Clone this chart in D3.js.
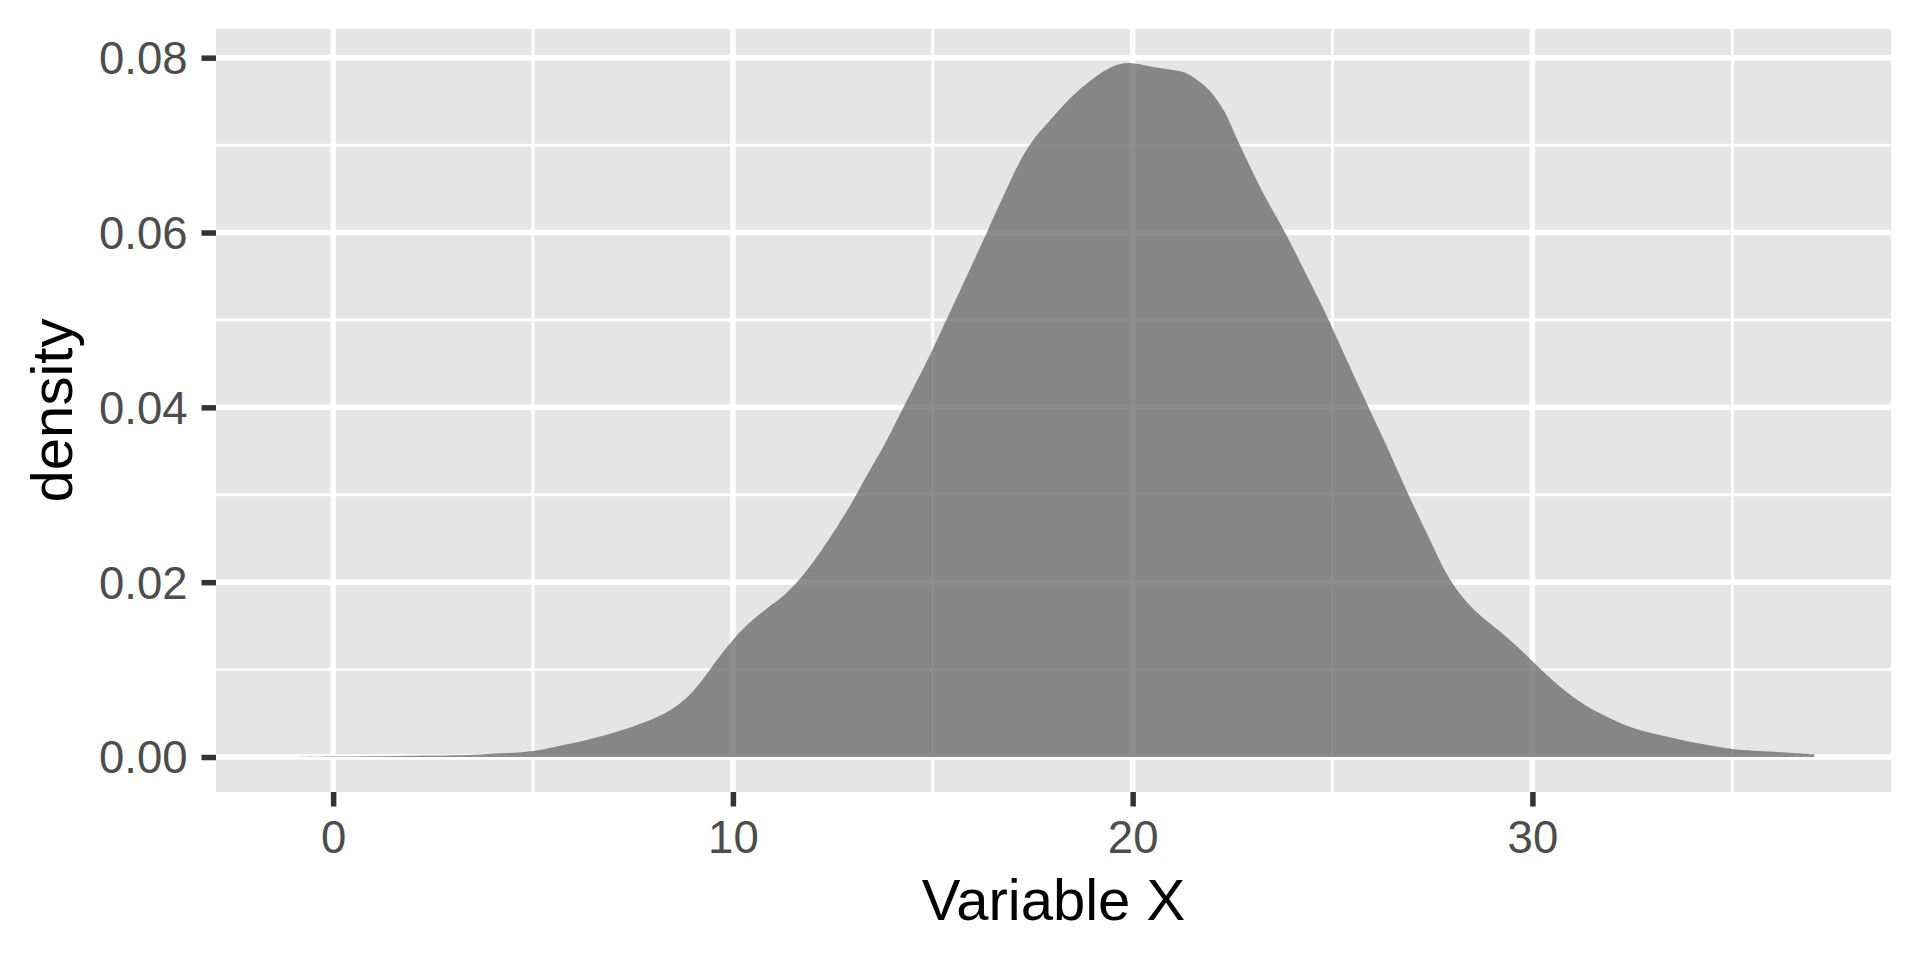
<!DOCTYPE html>
<html>
<head>
<meta charset="utf-8">
<script src="https://cdn.jsdelivr.net/npm/d3@7"></script>
<style>
  html, body { margin: 0; padding: 0; background: #ffffff; }
  svg { display: block; font-family: "Liberation Sans", Arial, Helvetica, sans-serif; }
</style>
</head>
<body>
<svg id="chart" width="1920" height="960"></svg>
<script>
// ---- data ----
const xValues = [-1.0, 0, 1, 2, 3, 3.7, 5, 5.6, 6.56, 7.5, 8.3, 8.8, 9.2, 9.6, 10.0, 10.45, 10.85, 11.3, 11.7, 12.1, 12.5, 12.95, 13.35, 13.8, 14.2, 14.95, 15.4, 15.95, 16.4, 16.85, 17.2, 17.5, 17.85, 18.4, 18.95, 19.5, 19.9, 20.45, 20.85, 21.3, 21.6, 21.95, 22.3, 22.6, 22.95, 23.3, 23.8, 24.3, 24.8, 25.3, 25.8, 26.4, 26.9, 27.4, 27.85, 28.25, 28.65, 29.15, 29.65, 30.15, 30.65, 31.1, 31.6, 32.1, 32.6, 33.1, 33.6, 34.1, 34.6, 35.05, 36.05, 37.05];
const densityValues = [0, 0.00005, 0.0001, 0.00015, 0.0002, 0.0003, 0.0007, 0.0012, 0.0022, 0.0035, 0.0050, 0.0066, 0.0086, 0.0111, 0.0134, 0.0155, 0.0170, 0.0186, 0.0205, 0.0229, 0.0256, 0.0289, 0.0322, 0.0358, 0.0394, 0.0462, 0.0506, 0.0560, 0.0605, 0.0650, 0.0683, 0.0705, 0.0724, 0.0752, 0.0774, 0.0790, 0.0794, 0.0790, 0.0787, 0.0783, 0.0775, 0.0761, 0.0738, 0.0708, 0.0674, 0.0642, 0.0601, 0.0556, 0.0510, 0.0460, 0.0410, 0.0351, 0.0300, 0.0252, 0.0210, 0.0183, 0.0164, 0.0145, 0.0125, 0.0103, 0.0082, 0.0066, 0.0052, 0.0041, 0.0032, 0.0026, 0.0021, 0.0016, 0.0012, 0.0009, 0.0006, 0.0003];
const xTicks = [0, 10, 20, 30];
const xMinorTicks = [5, 15, 25, 35];
const yTicks = [0, 0.02, 0.04, 0.06, 0.08];
const yMinorTicks = [0.01, 0.03, 0.05, 0.07];
const xTitle = "Variable X";
const yTitle = "density";

// ---- layout ----
const panel = { left: 216, right: 1891, top: 29, bottom: 792 };
const svg = d3.select("#chart");

const x = d3.scaleLinear().domain([-2.93, 38.97]).range([panel.left, panel.right]);
const y = d3.scaleLinear().domain([-0.0040, 0.08328]).range([panel.bottom, panel.top]);

const data = xValues.map((v, i) => ({ x: v, y: densityValues[i] }));

// panel background
svg.append("rect")
  .attr("x", panel.left).attr("y", panel.top)
  .attr("width", panel.right - panel.left).attr("height", panel.bottom - panel.top)
  .attr("fill", "#E5E5E5");

const grid = svg.append("g");
// minor grid
grid.selectAll("line.xminor").data(xMinorTicks).join("line")
  .attr("x1", d => x(d)).attr("x2", d => x(d))
  .attr("y1", panel.top).attr("y2", panel.bottom)
  .attr("stroke", "#ffffff").attr("stroke-width", 2.8);
grid.selectAll("line.yminor").data(yMinorTicks).join("line")
  .attr("y1", d => y(d)).attr("y2", d => y(d))
  .attr("x1", panel.left).attr("x2", panel.right)
  .attr("stroke", "#ffffff").attr("stroke-width", 2.8);
// major grid
grid.selectAll("line.xmajor").data(xTicks).join("line")
  .attr("x1", d => x(d)).attr("x2", d => x(d))
  .attr("y1", panel.top).attr("y2", panel.bottom)
  .attr("stroke", "#ffffff").attr("stroke-width", 5.5);
grid.selectAll("line.ymajor").data(yTicks).join("line")
  .attr("y1", d => y(d)).attr("y2", d => y(d))
  .attr("x1", panel.left).attr("x2", panel.right)
  .attr("stroke", "#ffffff").attr("stroke-width", 5.5);

// density area
const area = d3.area()
  .x(d => x(d.x))
  .y0(y(0))
  .y1(d => y(d.y))
  .curve(d3.curveCatmullRom.alpha(0.5));

svg.append("path")
  .datum(data)
  .attr("d", area)
  .attr("fill", "#666666")
  .attr("fill-opacity", 0.75)
  .attr("stroke", "none");

// axes
const xAxis = d3.axisBottom(x).tickValues(xTicks).tickSize(14.5).tickPadding(14).tickFormat(d3.format("d"));
const gx = svg.append("g").attr("transform", `translate(0,${panel.bottom})`).call(xAxis);
gx.select(".domain").remove();
gx.selectAll(".tick line").attr("stroke", "#333333").attr("stroke-width", 5.5);
gx.selectAll(".tick text").attr("fill", "#4D4D4D").attr("font-size", 45.5)
  .attr("dy", "0.71em");

const yAxis = d3.axisLeft(y).tickValues(yTicks).tickSize(14.5).tickPadding(14).tickFormat(d3.format(".2f"));
const gy = svg.append("g").attr("transform", `translate(${panel.left},0)`).call(yAxis);
gy.select(".domain").remove();
gy.selectAll(".tick line").attr("stroke", "#333333").attr("stroke-width", 5.5);
gy.selectAll(".tick text").attr("fill", "#4D4D4D").attr("font-size", 45.5)
  .attr("dy", "0.35em");
svg.selectAll(".tick text").attr("font-family", "'Liberation Sans', Arial, Helvetica, sans-serif");

// titles
svg.append("text")
  .attr("x", (panel.left + panel.right) / 2).attr("y", 920)
  .attr("text-anchor", "middle").attr("font-size", 58).attr("fill", "#000000")
  .text(xTitle);

svg.append("text")
  .attr("transform", `translate(72,${(panel.top + panel.bottom) / 2}) rotate(-90)`)
  .attr("text-anchor", "middle").attr("font-size", 58).attr("fill", "#000000")
  .text(yTitle);
</script>
</body>
</html>
